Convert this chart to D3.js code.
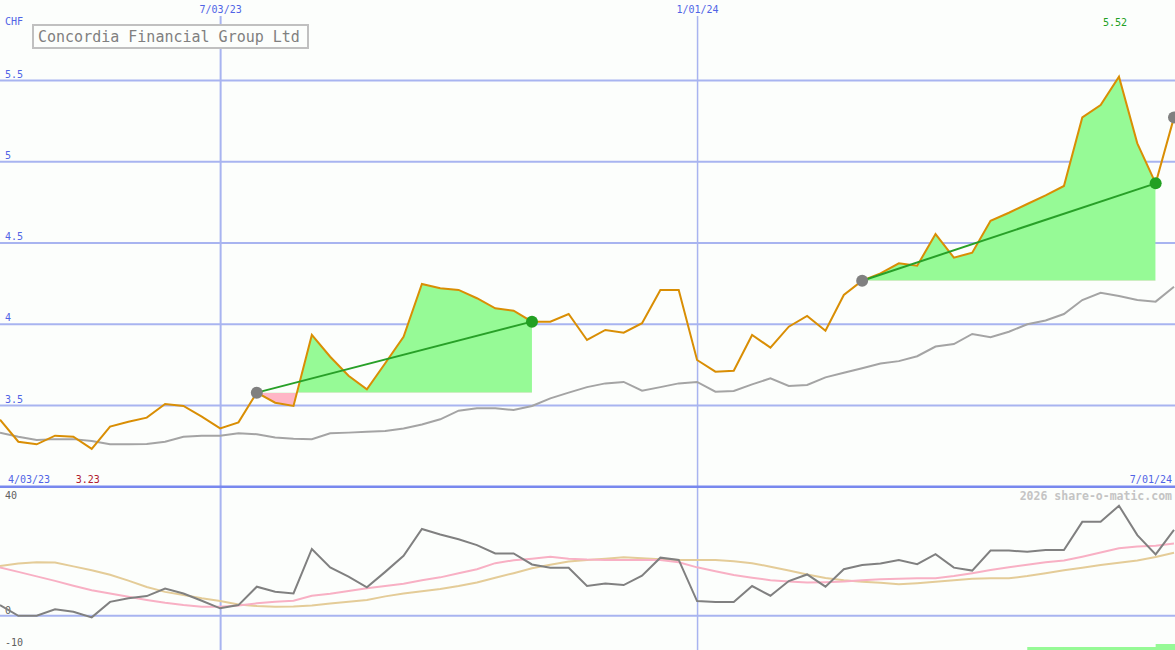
<!DOCTYPE html>
<html><head><meta charset="utf-8">
<script src="https://cdn.jsdelivr.net/npm/d3@7"></script>
<style>body{margin:0;background:#fcfefc;} svg{display:block;}</style>
</head><body><svg id="c" width="1175" height="650"></svg>
<script>
// ---------- data ----------
const firstWeek = Date.UTC(2023, 3, 10);
const lastWeekExclusive = Date.UTC(2024, 6, 2);
const price = [3.41, 3.274, 3.258, 3.311, 3.305, 3.23, 3.367, 3.397, 3.422, 3.506,
  3.494, 3.428, 3.356, 3.393, 3.576, 3.514, 3.494, 3.931, 3.797, 3.68,
  3.597, 3.757, 3.92, 4.245, 4.218, 4.208, 4.157, 4.095, 4.08, 4.013,
  4.013, 4.06, 3.9, 3.962, 3.945, 4.003, 4.208, 4.208, 3.777, 3.705,
  3.711, 3.931, 3.853, 3.982, 4.048, 3.957, 4.177, 4.265, 4.31, 4.372,
  4.357, 4.552, 4.407, 4.437, 4.634, 4.683, 4.737, 4.79, 4.848, 5.27,
  5.346, 5.52, 5.11, 4.864, 5.27];
const priceMA = [3.33, 3.305, 3.285, 3.29, 3.29, 3.278, 3.258, 3.258, 3.26, 3.274,
  3.305, 3.311, 3.311, 3.326, 3.32, 3.30, 3.292, 3.29, 3.326, 3.33,
  3.335, 3.34, 3.356, 3.38, 3.412, 3.465, 3.48, 3.48, 3.469, 3.494,
  3.541, 3.576, 3.61, 3.633, 3.642, 3.588, 3.61, 3.633, 3.642, 3.582,
  3.586, 3.627, 3.664, 3.617, 3.623, 3.67, 3.699, 3.726, 3.755, 3.77,
  3.80, 3.86, 3.875, 3.937, 3.917, 3.951, 3.997, 4.02, 4.06, 4.146,
  4.191, 4.171, 4.146, 4.136, 4.228];
const oscMain = [3.3, 0, 0, 2.0, 1.25, -0.5, 4.3, 5.4, 6.1, 8.4,
  6.9, 4.65, 2.3, 3.3, 9.0, 7.45, 6.9, 20.7, 15.0, 12.1,
  8.8, 13.6, 18.6, 26.9, 25.2, 23.7, 21.9, 19.3, 19.3, 15.9,
  14.9, 14.9, 9.2, 10.0, 9.5, 12.4, 18.0, 17.3, 4.55, 4.25,
  4.25, 9.2, 6.2, 10.75, 12.8, 9.0, 14.4, 15.7, 16.2, 17.3,
  16.0, 19.1, 14.9, 14.0, 20.2, 20.2, 19.8, 20.4, 20.4, 29.1,
  29.1, 34.1, 25.0, 19.0, 26.6];
const oscPink = [15.0, 13.6, 12.2, 10.8, 9.3, 7.9, 6.9, 5.9, 4.9, 4.0,
  3.3, 2.8, 2.8, 3.2, 3.85, 4.3, 4.65, 6.2, 6.8, 7.7,
  8.5, 9.25, 9.9, 11.0, 11.9, 13.2, 14.4, 16.3, 17.2, 17.7,
  18.3, 17.7, 17.4, 17.3, 17.3, 17.3, 17.3, 16.6, 15.0, 13.8,
  12.6, 11.8, 11.0, 10.6, 10.3, 10.4, 10.6, 11.0, 11.3, 11.5,
  11.6, 11.6, 12.3, 13.2, 14.2, 15.0, 15.8, 16.6, 17.1, 18.3,
  19.6, 20.9, 21.5, 21.7, 22.4];
const oscTan = [15.4, 16.2, 16.6, 16.5, 15.3, 14.1, 12.7, 10.9, 8.9, 7.4,
  6.4, 5.4, 4.6, 3.5, 3.0, 2.8, 2.9, 3.2, 3.8, 4.3,
  4.9, 6.0, 6.9, 7.6, 8.3, 9.2, 10.3, 11.8, 13.2, 14.7,
  15.8, 16.8, 17.3, 17.7, 18.1, 17.8, 17.5, 17.3, 17.3, 17.3,
  16.9, 16.3, 15.2, 14.0, 12.8, 11.7, 11.0, 10.5, 10.2, 9.8,
  10.1, 10.5, 11.0, 11.5, 11.6, 11.6, 12.3, 13.2, 14.1, 14.9,
  15.7, 16.4, 17.1, 18.2, 19.5];
const priceTicks = [3.5, 4, 4.5, 5, 5.5];
const oscTicks = [40, 0, -10];
const dateTicks = [Date.UTC(2023, 6, 3), Date.UTC(2024, 0, 1)];
const dateTickLabels = ["7/03/23", "1/01/24"];
const trendStartIdx = [14, 47];
const trendEndIdx = [29, 63];
const pendingIdx = [64];
const signalStartIdx = 56;
const signalLevels = [1, 1, 1, 1, 1, 1, 1, 2];
const title = "Concordia Financial Group Ltd";
const currency = "CHF";
const startLabel = "4/03/23";
const endLabel = "7/01/24";
const credit = "2026 share-o-matic.com";

// ---------- setup ----------
const W = 1175, H = 650;
const FONT = "'DejaVu Sans Mono', 'Liberation Mono', monospace";
const BLUE_TXT = "#5064e6", GRID = "#a8b4f0", SEP = "#7888ee";
const svg = d3.select("#c");
svg.append("rect").attr("width", W).attr("height", H).attr("fill", "#fcfefc");

const dates = d3.utcMonday.range(new Date(firstWeek), new Date(lastWeekExclusive));
const data = dates.map((d, i) => ({date: d, price: price[i], ma: priceMA[i],
  osc: oscMain[i], pink: oscPink[i], tan: oscTan[i]}));

const x = d3.scaleUtc().domain([dates[0], dates[dates.length - 1]]).range([0, 1174]);
const y = d3.scaleLinear().domain([3, 6]).range([486.25, -1.25]);
const yo = d3.scaleLinear().domain([-10, 40]).range([648, 486.7]);

// ---------- grid ----------
const gy = svg.append("g").call(d3.axisRight(y).tickValues(priceTicks).tickSize(W).tickFormat(d3.format("~g")));
gy.select(".domain").remove();
gy.selectAll("line").attr("stroke", GRID).attr("stroke-width", 2);
gy.selectAll("text").attr("x", 5).attr("dy", -3).attr("fill", BLUE_TXT)
  .attr("font-family", FONT).attr("font-size", 10).attr("text-anchor", "start");

const gx = svg.append("g").attr("transform", "translate(0,16)")
  .call(d3.axisBottom(x).tickValues(dateTicks.map(d => new Date(d))).tickSize(H - 16)
    .tickFormat((d, i) => dateTickLabels[i]));
gx.select(".domain").remove();
gx.selectAll("line").attr("stroke", GRID).attr("stroke-width", (d, i) => i === 0 ? 2 : 1.5);
gx.selectAll("text").attr("y", -3).attr("dy", 0).attr("fill", BLUE_TXT)
  .attr("font-family", FONT).attr("font-size", 10).attr("text-anchor", "middle");

// bottom panel grid
svg.append("g").selectAll("line").data(oscTicks.filter(v => v !== -10)).join("line")
  .attr("x1", 0).attr("x2", W).attr("y1", d => yo(d)).attr("y2", d => yo(d))
  .attr("stroke", d => d === 40 ? SEP : GRID).attr("stroke-width", d => d === 40 ? 2.5 : 2);
svg.append("g").selectAll("text").data(oscTicks).join("text")
  .attr("x", 5).attr("y", d => yo(d) + (d === 40 ? 12 : -2))
  .attr("fill", "#606060").attr("font-family", FONT).attr("font-size", 10).text(d => d);

// ---------- trend fills ----------
trendStartIdx.forEach((s, k) => {
  const e = trendEndIdx[k];
  const seg = data.slice(s, e + 1);
  const base = price[s];
  const area = d3.area().x(d => x(d.date)).y0(y(base)).y1(d => y(d.price));
  const x0 = x(dates[s]), x1 = x(dates[e]);
  const cg = svg.append("clipPath").attr("id", "cg" + k);
  cg.append("rect").attr("x", x0).attr("width", x1 - x0).attr("y", 0).attr("height", y(base));
  const cp = svg.append("clipPath").attr("id", "cp" + k);
  cp.append("rect").attr("x", x0).attr("width", x1 - x0).attr("y", y(base)).attr("height", 487 - y(base));
  svg.append("path").datum(seg).attr("d", area).attr("fill", "#96fa96").attr("clip-path", `url(#cg${k})`);
  svg.append("path").datum(seg).attr("d", area).attr("fill", "#ffb6c6").attr("clip-path", `url(#cp${k})`);
});

// ---------- lines ----------
const line = acc => d3.line().x(d => x(d.date)).y(acc);
svg.append("path").datum(data).attr("d", line(d => y(d.ma))).attr("fill", "none")
  .attr("stroke", "#a4a4a4").attr("stroke-width", 2);
svg.append("path").datum(data).attr("d", line(d => y(d.price))).attr("fill", "none")
  .attr("stroke", "#d98e04").attr("stroke-width", 2);

svg.append("path").datum(data).attr("d", line(d => yo(d.tan))).attr("fill", "none")
  .attr("stroke", "#e4cc98").attr("stroke-width", 2);
svg.append("path").datum(data).attr("d", line(d => yo(d.pink))).attr("fill", "none")
  .attr("stroke", "#f8b0c4").attr("stroke-width", 2);
svg.append("path").datum(data).attr("d", line(d => yo(d.osc))).attr("fill", "none")
  .attr("stroke", "#808080").attr("stroke-width", 2);

// signal bars at bottom
const barW = x(dates[1]) - x(dates[0]);
svg.append("g").selectAll("rect").data(signalLevels).join("rect")
  .attr("x", (d, i) => x(dates[signalStartIdx + i]))
  .attr("width", barW + 1)
  .attr("y", d => H - d * 3)
  .attr("height", d => d * 3)
  .attr("fill", "#96fa96");

// trend lines and dots
trendStartIdx.forEach((s, k) => {
  const e = trendEndIdx[k];
  svg.append("line").attr("x1", x(dates[s])).attr("y1", y(price[s]))
    .attr("x2", x(dates[e])).attr("y2", y(price[e]))
    .attr("stroke", "#28a028").attr("stroke-width", 2);
});
svg.append("g").selectAll("circle").data(trendStartIdx.concat(pendingIdx)).join("circle")
  .attr("cx", i => x(dates[i])).attr("cy", i => y(price[i])).attr("r", 6).attr("fill", "#808080");
svg.append("g").selectAll("circle").data(trendEndIdx).join("circle")
  .attr("cx", i => x(dates[i])).attr("cy", i => y(price[i])).attr("r", 6).attr("fill", "#22a022");

// ---------- labels ----------
const maxI = d3.maxIndex(price), minI = d3.minIndex(price);
svg.append("text").attr("x", x(dates[maxI]) - 4).attr("y", 26).attr("text-anchor", "middle")
  .attr("fill", "#22a022").attr("font-family", FONT).attr("font-size", 10).text(price[maxI].toFixed(2));
svg.append("text").attr("x", x(dates[minI]) - 4).attr("y", 483).attr("text-anchor", "middle")
  .attr("fill", "#b02030").attr("font-family", FONT).attr("font-size", 10).text(price[minI].toFixed(2));
svg.append("text").attr("x", 5).attr("y", 25).attr("fill", BLUE_TXT)
  .attr("font-family", FONT).attr("font-size", 10).text(currency);
svg.append("text").attr("x", 8).attr("y", 483).attr("fill", BLUE_TXT)
  .attr("font-family", FONT).attr("font-size", 10).text(startLabel);
svg.append("text").attr("x", 1172).attr("y", 483).attr("text-anchor", "end").attr("fill", BLUE_TXT)
  .attr("font-family", FONT).attr("font-size", 10).text(endLabel);
svg.append("text").attr("x", 1172).attr("y", 500).attr("text-anchor", "end").attr("fill", "#c4c4c4")
  .attr("font-family", FONT).attr("font-size", 11.5).attr("font-weight", "bold").text(credit);

// title box
svg.append("rect").attr("x", 33).attr("y", 25).attr("width", 275).attr("height", 23)
  .attr("fill", "#fcfefc").attr("stroke", "#c0c0c0").attr("stroke-width", 2);
svg.append("text").attr("x", 38).attr("y", 41.5).attr("fill", "#808080")
  .attr("font-family", FONT).attr("font-size", 15).text(title);
</script>
</body></html>
